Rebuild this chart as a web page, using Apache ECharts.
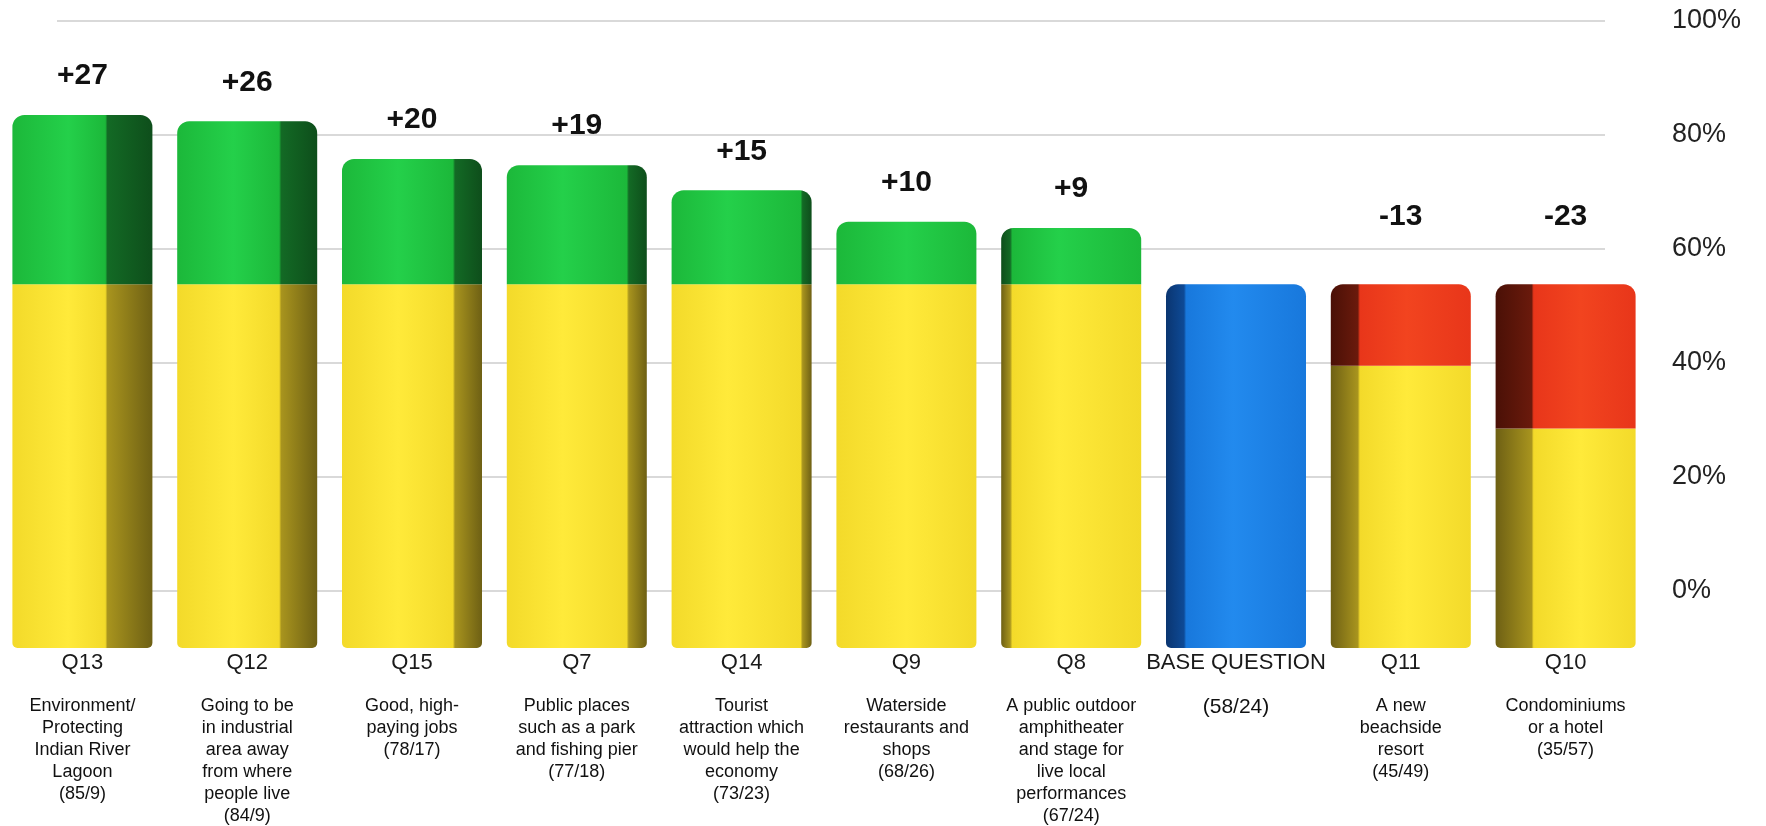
<!DOCTYPE html>
<html>
<head>
<meta charset="utf-8">
<style>
  html, body { margin: 0; padding: 0; background: #ffffff; }
  #chart { width: 1766px; height: 826px; }
</style>
<script src="https://cdn.jsdelivr.net/npm/echarts@6/dist/echarts.min.js"></script>
</head>
<body>
<div id="chart"></div>
<script>
// ---- data ----
const categories = ['Q13', 'Q12', 'Q15', 'Q7', 'Q14', 'Q9', 'Q8', 'BASE QUESTION', 'Q11', 'Q10'];
const descriptions = [
  ['Environment/', 'Protecting', 'Indian River', 'Lagoon'],
  ['Going to be', 'in industrial', 'area away', 'from where', 'people live'],
  ['Good, high-', 'paying jobs'],
  ['Public places', 'such as a park', 'and fishing pier'],
  ['Tourist', 'attraction which', 'would help the', 'economy'],
  ['Waterside', 'restaurants and', 'shops'],
  ['A public outdoor', 'amphitheater', 'and stage for', 'live local', 'performances'],
  [],
  ['A new', 'beachside', 'resort'],
  ['Condominiums', 'or a hotel']
];
const positive = [85, 84, 78, 77, 73, 68, 67, 58, 45, 35];
const negative = [9, 9, 17, 18, 23, 26, 24, 24, 49, 57];
const baseValue = 58;
const baseIndex = 7;
const axisTicks = [0, 20, 40, 60, 80, 100];

// ---- derived series ----
const yellowVals = positive.map((p, i) => i === baseIndex ? null : Math.min(p, baseValue));
const blueVals = positive.map((p, i) => i === baseIndex ? p : null);
const greenVals = positive.map((p, i) => (i !== baseIndex && p > baseValue) ? p - baseValue : null);
const redVals = positive.map((p, i) => (i !== baseIndex && p < baseValue) ? baseValue - p : null);

// ---- styling helpers (3D-like shading) ----
const BAR_W = 140;
function sideFor(i) { return (5 - i) * 9; } // +: side on right, -: side on left
function grad(i, front, hi, side, sideDark) {
  const s = sideFor(i);
  const f = Math.min(Math.abs(s) / BAR_W, 0.45);
  let stops;
  if (s > 0) {
    stops = [
      { offset: 0, color: front },
      { offset: 0.4, color: hi },
      { offset: Math.max(1 - f - 0.015, 0.45), color: front },
      { offset: 1 - f, color: side },
      { offset: 1, color: sideDark }
    ];
  } else if (s < 0) {
    stops = [
      { offset: 0, color: sideDark },
      { offset: f, color: side },
      { offset: Math.min(f + 0.015, 0.55), color: front },
      { offset: Math.min(f + 0.35, 0.9), color: hi },
      { offset: 1, color: front }
    ];
  } else {
    stops = [
      { offset: 0, color: front },
      { offset: 0.5, color: hi },
      { offset: 1, color: front }
    ];
  }
  return { type: 'linear', x: 0, y: 0, x2: 1, y2: 0, colorStops: stops };
}
const PAL = {
  yellow: ['#F3DA2A', '#FFEA3A', '#A8941E', '#6E6014'],
  green: ['#1CB83A', '#24D04A', '#136A25', '#0E4E1B'],
  red: ['#E8361A', '#F2441F', '#6A1A0C', '#4A1006'],
  blue: ['#1878DC', '#228AEE', '#0E4A96', '#0A3570']
};
function styled(vals, pal, radius) {
  return vals.map((v, i) => v == null ? '-' : {
    value: v,
    itemStyle: { color: grad(i, pal[0], pal[1], pal[2], pal[3]), borderRadius: radius }
  });
}

// ---- axis labels ----
const catLabels = categories.map((c, i) => {
  const parts = ['{c|' + c + '}', '{g| }'];
  descriptions[i].forEach(line => parts.push('{d|' + line + '}'));
  const pair = '(' + positive[i] + '/' + negative[i] + ')';
  parts.push(i === baseIndex ? '{b|' + pair + '}' : '{d|' + pair + '}');
  return parts.join('\n');
});

const chart = echarts.init(document.getElementById('chart'), null, { renderer: 'canvas' });
const FONT = 'Liberation Sans, Arial, Helvetica, sans-serif';

chart.setOption({
  animation: false,
  backgroundColor: '#ffffff',
  grid: [
    { left: 0, right: 118, top: 21, bottom: 178 },
    { left: 57, right: 161, top: 21, bottom: 235 }
  ],
  xAxis: [
    {
      gridIndex: 0,
      type: 'category',
      data: categories,
      axisLine: { show: false },
      axisTick: { show: false },
      splitLine: { show: false },
      axisLabel: {
        interval: 0,
        margin: 2,
        formatter: (v, idx) => catLabels[idx],
        rich: {
          c: { fontFamily: FONT, fontSize: 22, lineHeight: 26, color: '#1a1a1a', align: 'center' },
          g: { fontFamily: FONT, fontSize: 10, lineHeight: 19, align: 'center' },
          d: { fontFamily: FONT, fontSize: 18, lineHeight: 22, color: '#111', align: 'center' },
          b: { fontFamily: FONT, fontSize: 21, lineHeight: 24, color: '#111', align: 'center' }
        }
      }
    },
    { gridIndex: 1, type: 'value', show: false, min: 0, max: 1 }
  ],
  yAxis: [
    { gridIndex: 0, type: 'value', min: 0, max: 100, show: false, splitLine: { show: false } },
    {
      gridIndex: 1,
      type: 'value',
      position: 'right',
      min: axisTicks[0],
      max: axisTicks[axisTicks.length - 1],
      interval: axisTicks[1] - axisTicks[0],
      axisLine: { show: false },
      axisTick: { show: false },
      splitLine: { show: true, lineStyle: { color: '#d9d9d9', width: 2 } },
      axisLabel: {
        margin: 67,
        align: 'left',
        fontFamily: FONT,
        fontSize: 27,
        color: '#222',
        formatter: '{value}%'
      }
    }
  ],
  series: [
    {
      name: 'Yellow', type: 'bar', stack: 'total', xAxisIndex: 0, yAxisIndex: 0,
      barWidth: BAR_W, z: 3,
      data: styled(yellowVals, PAL.yellow, [0, 0, 5, 5])
    },
    {
      name: 'Base', type: 'bar', stack: 'total', xAxisIndex: 0, yAxisIndex: 0,
      barWidth: BAR_W, z: 3,
      data: styled(blueVals, PAL.blue, [12, 12, 5, 5])
    },
    {
      name: 'Green', type: 'bar', stack: 'total', xAxisIndex: 0, yAxisIndex: 0,
      barWidth: BAR_W, z: 3,
      data: styled(greenVals, PAL.green, [12, 12, 0, 0]),
      label: {
        show: true, position: 'top', distance: 24,
        fontFamily: FONT, fontSize: 30, fontWeight: 'bold', color: '#111',
        formatter: p => '+' + p.value
      }
    },
    {
      name: 'Red', type: 'bar', stack: 'total', xAxisIndex: 0, yAxisIndex: 0,
      barWidth: BAR_W, z: 3,
      data: styled(redVals, PAL.red, [12, 12, 0, 0]),
      label: {
        show: true, position: 'top', distance: 53,
        fontFamily: FONT, fontSize: 30, fontWeight: 'bold', color: '#111',
        formatter: p => '-' + p.value
      }
    }
  ]
});
</script>
</body>
</html>
